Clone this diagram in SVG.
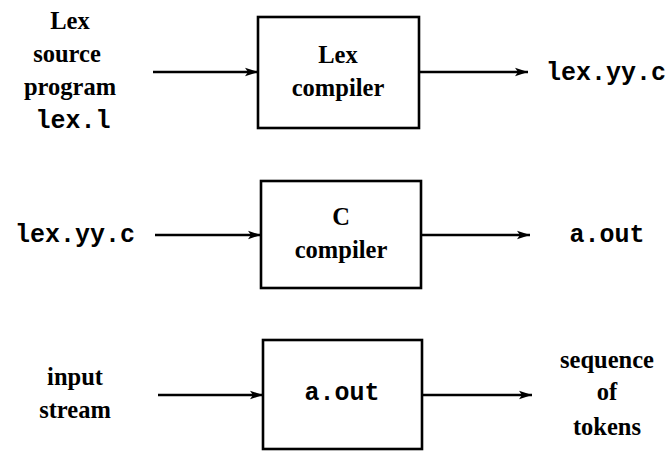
<svg xmlns="http://www.w3.org/2000/svg" width="668" height="451" viewBox="0 0 668 451">
<defs>
<marker id="ah" markerWidth="14" markerHeight="10" refX="13" refY="5" orient="auto" markerUnits="userSpaceOnUse">
<path d="M0,0.8 L13,5 L0,9.2 L3,5 Z" fill="#000"/>
</marker>
<style>
.box{fill:#fff;stroke:#000;stroke-width:2.6}
.edge{stroke:#000;stroke-width:2.4;fill:none;marker-end:url(#ah)}
.t{font-family:"Liberation Serif","Times New Roman",serif;font-weight:bold;font-size:24.5px;text-anchor:middle;fill:#000}
.m{font-family:"Liberation Mono","Courier New",monospace;font-weight:bold;font-size:25px;text-anchor:middle;fill:#000}
</style>
</defs>
<rect width="668" height="451" fill="#fff"/>
<g id="lex-compiler">
<rect class="box" x="258" y="17" width="161" height="111"/>
<text class="t" x="338" y="63">Lex</text>
<text class="t" x="338" y="96">compiler</text>
</g>
<g id="c-compiler">
<rect class="box" x="261" y="181" width="160" height="107"/>
<text class="t" x="341" y="225">C</text>
<text class="t" x="341" y="258">compiler</text>
</g>
<g id="a-out">
<rect class="box" x="263" y="340" width="159" height="109"/>
<text class="m" x="342" y="400">a.out</text>
</g>
<g id="lex-source">
<text class="t" x="70" y="29">Lex</text>
<text class="t" x="67" y="62">source</text>
<text class="t" x="70" y="95">program</text>
<text class="m" x="73" y="128">lex.l</text>
</g>
<g id="lex-yy-c-out">
<text class="m" x="606" y="80">lex.yy.c</text>
</g>
<g id="lex-yy-c-in">
<text class="m" x="75" y="242">lex.yy.c</text>
</g>
<g id="a-out-file">
<text class="m" x="607" y="242">a.out</text>
</g>
<g id="input-stream">
<text class="t" x="75" y="385">input</text>
<text class="t" x="75" y="418">stream</text>
</g>
<g id="tokens">
<text class="t" x="607" y="368">sequence</text>
<text class="t" x="607" y="400">of</text>
<text class="t" x="607" y="435">tokens</text>
</g>
<g id="connectors">
<line class="edge" x1="153" y1="72" x2="258" y2="72"/>
<line class="edge" x1="419" y1="72" x2="528" y2="72"/>
<line class="edge" x1="155" y1="235" x2="261" y2="235"/>
<line class="edge" x1="421" y1="235" x2="530" y2="235"/>
<line class="edge" x1="158" y1="395" x2="263" y2="395"/>
<line class="edge" x1="422" y1="395" x2="532" y2="395"/>
</g>
</svg>
